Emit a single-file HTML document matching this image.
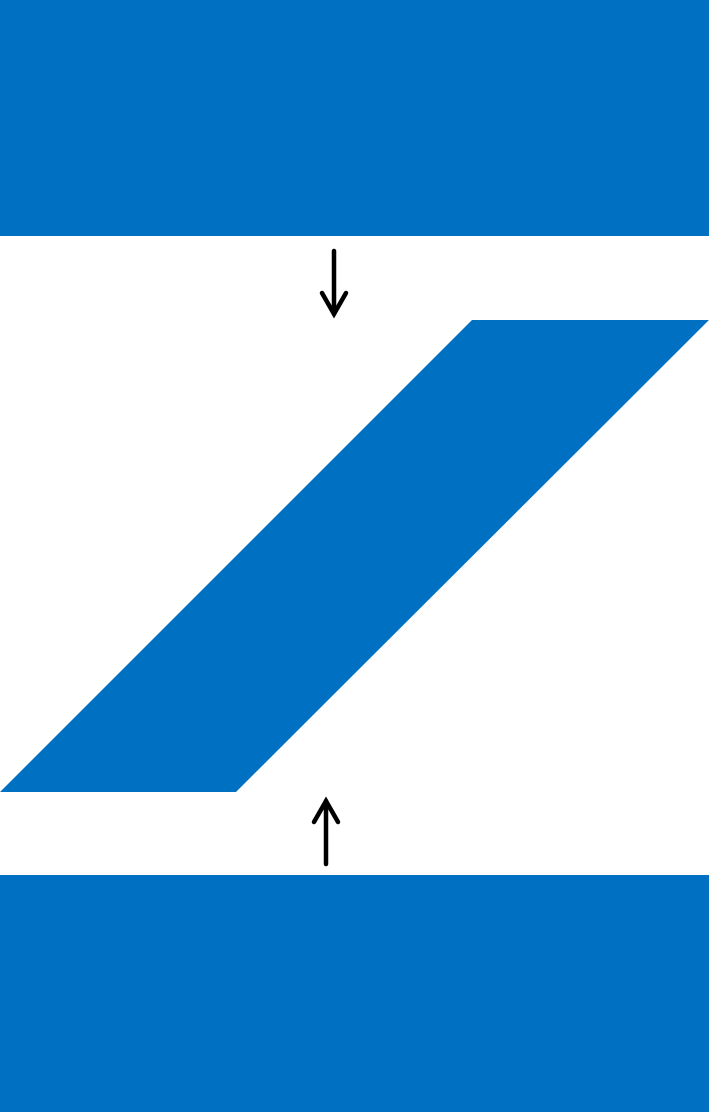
<!DOCTYPE html>
<html><head><meta charset="utf-8"><style>html,body{margin:0;padding:0;background:#fff;width:709px;height:1112px;overflow:hidden}</style></head>
<body>
<svg width="709" height="1112" viewBox="0 0 709 1112" xmlns="http://www.w3.org/2000/svg">
<rect x="0" y="0" width="709" height="236" fill="#0071C2"/>
<polygon points="472,320 709,320 236,792 0,792" fill="#0071C2"/>
<rect x="0" y="875" width="709" height="237" fill="#0071C2"/>
<g stroke="#000" stroke-width="4.5" fill="none" stroke-linecap="round" stroke-linejoin="miter">
<line x1="334" y1="251" x2="334" y2="314"/>
<polyline points="322,293 334,314 346,293"/>
</g>
<g stroke="#000" stroke-width="4.5" fill="none" stroke-linecap="round" stroke-linejoin="miter">
<line x1="326" y1="864" x2="326" y2="801"/>
<polyline points="314,822 326,801 338,822"/>
</g>
</svg>
</body></html>
